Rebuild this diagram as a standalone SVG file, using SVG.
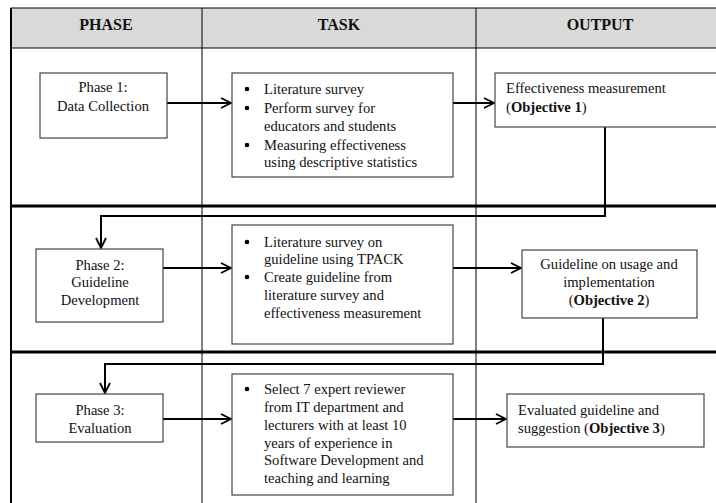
<svg xmlns="http://www.w3.org/2000/svg" width="716" height="503" viewBox="0 0 716 503">
<defs>
<marker id="ah" viewBox="0 0 12 12" refX="11" refY="6" markerWidth="12" markerHeight="12" markerUnits="userSpaceOnUse" orient="auto">
<path d="M1,1 L11,6 L1,11" fill="none" stroke="#000" stroke-width="1.8"/>
</marker>
</defs>
<style>
text{font-family:"Liberation Serif","Times New Roman",serif;font-size:14.6px;fill:#111}
.h{font-size:16px;font-weight:bold;text-anchor:middle}
.c{text-anchor:middle}
.box{fill:#fff;stroke:#444;stroke-width:1.2}
.grid{stroke:#000;fill:none}
.con{stroke:#000;stroke-width:2;fill:none}
.b{font-weight:bold}
</style>
<rect width="716" height="503" fill="#fff"/>
<g id="table">
<rect x="11" y="8" width="706" height="40" fill="#d9d9d9" stroke="#000" stroke-width="1"/>
<line class="grid" x1="11" y1="8" x2="11" y2="503" stroke-width="2"/>
<line class="grid" x1="202" y1="8" x2="202" y2="503" stroke-width="1"/>
<line class="grid" x1="476" y1="8" x2="476" y2="503" stroke-width="1"/>
<line class="grid" x1="11" y1="206" x2="716" y2="206" stroke-width="3"/>
<line class="grid" x1="11" y1="352" x2="716" y2="352" stroke-width="3"/>
<text class="h" x="106" y="30">PHASE</text>
<text class="h" x="339" y="30">TASK</text>
<text class="h" x="600" y="30">OUTPUT</text>
</g>
<g id="connectors">
<line class="con" x1="167" y1="103" x2="231" y2="103" marker-end="url(#ah)"/>
<line class="con" x1="453" y1="103" x2="494" y2="103" marker-end="url(#ah)"/>
<polyline class="con" points="605,127 605,216 101,216 101,248" marker-end="url(#ah)"/>
<line class="con" x1="163" y1="268" x2="231" y2="268" marker-end="url(#ah)"/>
<line class="con" x1="453" y1="268" x2="521" y2="268" marker-end="url(#ah)"/>
<polyline class="con" points="603,318 603,364 105,364 105,393" marker-end="url(#ah)"/>
<line class="con" x1="163" y1="419" x2="231" y2="419" marker-end="url(#ah)"/>
<line class="con" x1="453" y1="419" x2="506" y2="419" marker-end="url(#ah)"/>
</g>
<g id="phase1">
<rect class="box" x="40" y="73" width="127" height="65"/>
<text class="c" x="103" y="92">Phase 1:</text>
<text class="c" x="103" y="111">Data Collection</text>
</g>
<g id="task1">
<rect class="box" x="232" y="73" width="221" height="104"/>
<circle cx="247" cy="89" r="2.3" fill="#000"/>
<circle cx="247" cy="108" r="2.3" fill="#000"/>
<circle cx="247" cy="145" r="2.3" fill="#000"/>
<text x="264" y="94">Literature survey</text>
<text x="264" y="113">Perform survey for</text>
<text x="264" y="131">educators and students</text>
<text x="264" y="150">Measuring effectiveness</text>
<text x="264" y="167">using descriptive statistics</text>
</g>
<g id="output1">
<rect class="box" x="495" y="73" width="222" height="54"/>
<text x="506" y="93">Effectiveness measurement</text>
<text x="506" y="112">(<tspan class="b">Objective 1</tspan>)</text>
</g>
<g id="phase2">
<rect class="box" x="36" y="249" width="127" height="73"/>
<text class="c" x="100" y="270">Phase 2:</text>
<text class="c" x="100" y="287">Guideline</text>
<text class="c" x="100" y="305">Development</text>
</g>
<g id="task2">
<rect class="box" x="232" y="225" width="221" height="119"/>
<circle cx="247" cy="242" r="2.3" fill="#000"/>
<circle cx="247" cy="277" r="2.3" fill="#000"/>
<text x="264" y="247">Literature survey on</text>
<text x="264" y="264">guideline using TPACK</text>
<text x="264" y="282">Create guideline from</text>
<text x="264" y="300">literature survey and</text>
<text x="264" y="318">effectiveness measurement</text>
</g>
<g id="output2">
<rect class="box" x="522" y="250" width="175" height="68"/>
<text class="c" x="609" y="269">Guideline on usage and</text>
<text class="c" x="609" y="287">implementation</text>
<text class="c" x="609" y="305">(<tspan class="b">Objective 2</tspan>)</text>
</g>
<g id="phase3">
<rect class="box" x="36" y="394" width="127" height="48"/>
<text class="c" x="100" y="415">Phase 3:</text>
<text class="c" x="100" y="433">Evaluation</text>
</g>
<g id="task3">
<rect class="box" x="232" y="374" width="221" height="121"/>
<circle cx="247" cy="389" r="2.3" fill="#000"/>
<text x="264" y="394">Select 7 expert reviewer</text>
<text x="264" y="412">from IT department and</text>
<text x="264" y="430">lecturers with at least 10</text>
<text x="264" y="448">years of experience in</text>
<text x="264" y="465">Software Development and</text>
<text x="264" y="483">teaching and learning</text>
</g>
<g id="output3">
<rect class="box" x="507" y="394" width="197" height="53"/>
<text x="518" y="415">Evaluated guideline and</text>
<text x="518" y="433">suggestion (<tspan class="b">Objective 3</tspan>)</text>
</g>
</svg>
